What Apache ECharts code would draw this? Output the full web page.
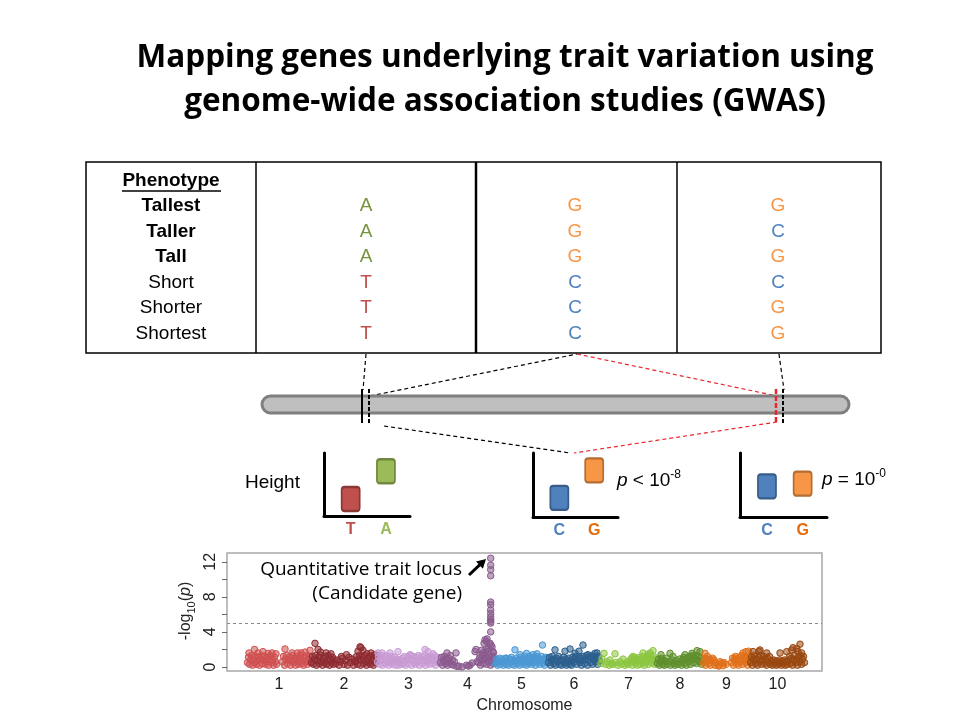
<!DOCTYPE html>
<html><head><meta charset="utf-8">
<script src="https://cdn.jsdelivr.net/npm/echarts@6/dist/echarts.min.js"></script>
<style>html,body{margin:0;padding:0;background:#fff}#main{width:960px;height:720px}</style>
</head><body><div id="main"></div>
<script>
// ---------------- DATA ----------------
const titleLines = ['Mapping genes underlying trait variation using', 'genome-wide association studies (GWAS)'];
const phenoHeader = 'Phenotype';
const phenotypes = ['Tallest', 'Taller', 'Tall', 'Short', 'Shorter', 'Shortest'];
const snp1 = ['A', 'A', 'A', 'T', 'T', 'T'];
const snp2 = ['G', 'G', 'G', 'C', 'C', 'C'];
const snp3 = ['G', 'C', 'G', 'C', 'G', 'G'];

const allelesA = ['T', 'A'];
const heightsA = [2.7, 7.1];
const allelesB = ['C', 'G'];
const heightsB = [3.0, 7.3];
const allelesC = ['C', 'G'];
const heightsC = [4.8, 5.2];
const pTextB = ['<', '-8'];
const pTextC = ['=', '-0'];

const chrNames = ['1', '2', '3', '4', '5', '6', '7', '8', '9', '10'];
const chrLen = [640, 660, 630, 550, 530, 520, 570, 460, 470, 550];
const threshold = 5;
const yTickValues = [0, 2, 4, 6, 8, 10, 12];
const yLabelValues = [0, 4, 8, 12];

const chr1 = [[5,0.5],[15,1.1],[25,0.3],[35,0.8],[45,1.3],[55,0.2],[65,0.9],[75,0.5],[85,1.2],[95,0.3],[105,0.7],[115,1.1],[125,0.2],[135,0.9],[145,1.3],[155,0.4],[165,0.8],[175,1.2],[185,0.3],[195,0.6],[205,1.1],[215,0.2],[225,0.9],[235,1.3],[245,0.5],[255,0.8],[265,0.2],[275,1.1],[285,0.6],[295,0.3],
[20,1.6],[75,2.0],[110,1.6],[160,1.75],[210,1.55],[250,1.6],[290,1.5],
[355,0.6],[365,1.2],[375,0.2],[385,0.9],[395,1.3],[405,0.4],[415,0.8],[425,1.1],[435,0.2],[445,0.7],[455,1.3],[465,0.5],[475,0.9],[485,0.2],[495,1.2],[505,0.6],[515,0.3],[525,1.0],[535,1.3],[545,0.4],[555,0.8],[565,0.2],[575,1.1],[585,0.6],[595,1.3],[605,0.3],[615,0.9],[625,1.2],[635,0.5],
[380,2.05],[450,1.6],[505,1.6],[540,1.6],[580,1.7],[630,1.9]];
const chr2 = [[5,0.5],[15,1.2],[25,0.3],[35,0.9],[45,1.3],[55,0.2],[65,0.7],[75,1.1],[85,0.4],[95,1.3],[105,0.6],[115,0.2],[125,1.0],[135,0.5],[145,1.2],[155,0.3],[165,0.8],[175,1.3],[185,0.2],[195,0.9],[205,0.5],[215,1.1],[225,0.3],[235,0.8],
[40,2.7],[70,2.0],[95,1.7],[150,1.6],[200,1.5],
[250,0.4],[265,0.8],[280,0.2],[295,0.6],[305,1.2],[315,1.0],[330,0.3],[345,0.7],[355,1.4],[365,0.2],[380,1.1],[395,0.5],[410,0.9],[425,0.2],[435,0.6],
[445,0.6],[455,1.2],[465,0.3],[475,0.9],[485,1.3],[495,0.2],[505,0.8],[515,1.1],[525,0.4],[535,1.3],[545,0.6],[555,0.2],[565,1.0],[575,0.5],[585,1.2],[595,0.3],[605,0.8],[615,1.3],[625,0.2],[635,0.9],[645,0.5],[655,1.1],
[470,1.8],[490,2.3],[500,2.2],[520,1.9],[560,1.5],[600,1.6],[640,1.4]];
const chr3 = [[5,0.6],[15,1.2],[25,0.3],[35,0.9],[45,1.3],[55,0.2],[65,0.7],[75,1.1],[85,0.4],[95,1.3],[105,0.6],[115,0.2],[125,1.0],[135,0.5],[145,1.2],[155,0.3],[165,0.8],[175,1.1],[185,0.2],[195,0.6],[205,0.9],[215,0.2],[225,0.5],[235,0.8],[245,0.3],[255,1.0],[265,0.4],[275,1.2],[285,0.2],[295,0.7],[305,1.1],[315,0.4],[325,0.9],[335,1.3],[345,0.2],[355,0.8],[365,1.2],[375,0.5],[385,0.3],[395,1.1],[405,0.6],[415,1.3],[425,0.2],[435,0.9],[445,1.2],[455,0.4],[465,0.7],[475,1.3],[485,0.2],[495,1.0],[505,0.6],[515,1.2],[525,0.3],[535,0.8],[545,1.1],[555,0.4],[565,0.9],[575,1.3],[585,0.2],[595,0.7],[605,1.1],[615,0.5],[625,0.9],
[10,1.6],[50,1.6],[130,1.6],[210,1.75],[330,1.4],[480,2.0],[510,1.75],[560,1.5]];
const chr4 = [[5,0.5],[15,1.1],[25,0.2],[35,0.8],[45,1.2],[55,0.4],[65,0.9],[75,0.2],[85,1.0],[95,0.5],[105,1.3],[115,0.3],[125,0.8],[135,0.2],[145,0.6],
[70,1.6],[160,1.6],
[170,0.05],[190,0.1],[220,0.0],[265,0.2],[285,0.1],[300,0.2],[320,0.45],[350,1.75],[370,0.6],[360,2.0],
[385,0.5],[395,1.0],[405,0.2],[415,0.8],[425,1.3],[435,0.4],[445,0.9],[455,1.2],[465,0.3],[475,1.0],[485,0.6],[495,1.3],[505,0.2],[515,0.8],[525,1.2],[535,0.4],[545,0.9],
[400,1.4],[415,1.9],[430,1.6],[440,2.7],[450,3.1],[465,2.9],[470,3.2],[480,1.75],[485,2.1],[500,2.7],[510,2.5],[520,2.3],[530,1.75],[460,2.0],[535,1.6],
[507,12.4],[507,11.6],[507,11.1],[507,10.4],[507,7.4],[507,7.1],[507,6.5],[507,6.1],[507,5.7],[507,5.4],[507,5.2],[507,5.0],[507,4.0]];
const chr5 = [[5,0.4],[15,0.9],[25,0.2],[35,0.7],[45,1.0],[55,0.3],[65,0.6],[75,0.9],[85,0.2],[95,0.5],[105,1.0],[115,0.3],[125,0.7],[135,0.2],[145,0.9],[155,0.5],[165,1.1],[175,0.3],[185,0.8],[195,0.2],[205,0.6],[215,1.0],[225,0.4],[235,0.8],[245,0.2],[255,1.1],[265,0.5],[275,0.9],[285,0.3],[295,1.2],[305,0.6],[315,0.2],[325,1.0],[335,0.4],[345,1.2],[355,0.7],[365,0.3],[375,1.1],[385,0.5],[395,0.9],[405,0.2],[415,1.2],[425,0.6],[435,1.0],[445,0.3],[455,0.8],[465,1.2],[475,0.4],[485,0.9],[495,0.2],[505,1.1],[515,0.6],[525,1.0],
[115,1.0],[200,1.95],[250,1.4],[315,1.55],[380,1.4],[475,2.5],[420,1.5]];
const chr6 = [[5,0.5],[15,1.1],[25,0.2],[35,0.8],[45,1.2],[55,0.4],[65,0.9],[75,0.2],[85,1.0],[95,0.6],[105,1.2],[115,0.3],[125,0.8],[135,0.2],[145,0.7],[155,1.1],[165,0.4],[175,0.9],[185,0.2],[195,0.6],[205,1.0],[215,0.3],[225,0.7],[235,0.2],[245,1.1],[255,0.5],[265,0.9],[275,1.2],[285,0.3],[295,0.8],[305,1.2],[315,0.5],[325,1.0],[335,0.2],[345,0.7],[355,1.2],[365,0.4],[375,0.9],[385,1.3],[395,0.2],[405,0.8],[415,1.1],[425,0.5],[435,1.3],[445,0.3],[455,0.9],[465,1.2],[475,0.6],[485,1.0],[495,0.3],[505,1.2],[515,0.7],
[70,1.95],[170,1.8],[220,2.05],[270,1.56],[310,1.8],[350,2.5],[400,1.4],[470,1.56],[490,1.6]];
const chr7 = [[10,0.4],[20,0.9],[40,1.56],[55,0.3],[70,0.6],[90,0.2],[100,0.8],[115,0.4],[130,0.3],[150,1.5],[160,0.5],[180,0.2],[200,0.6],[215,0.3],[230,0.9],[250,0.2],[265,0.5],[280,0.3],[290,0.7],
[305,0.5],[315,1.0],[325,0.2],[335,0.8],[345,1.1],[355,0.4],[365,0.9],[375,0.2],[385,0.7],[395,1.1],[405,0.3],[415,0.8],[425,1.2],[435,0.5],[445,0.2],[455,1.0],[465,0.6],[475,1.2],[485,0.3],[495,0.9],[505,1.3],[515,0.5],[525,0.8],[535,1.2],[545,0.3],[555,0.9],[565,0.5],
[330,1.2],[430,1.6],[480,1.4],[500,1.6],[530,1.86]];
const chr8 = [[5,0.4],[15,0.9],[25,0.2],[35,0.7],[45,1.0],[55,0.3],[65,0.8],[75,0.2],[85,0.6],[95,1.0],[105,0.3],[120,0.6],[135,0.2],[150,0.8],[165,0.4],[180,0.2],[195,0.7],[210,0.3],[225,0.9],[235,0.5],[245,0.2],[255,0.8],[265,1.1],[275,0.4],[285,0.9],[295,0.2],[305,1.0],[315,0.6],[325,1.2],[335,0.3],[345,0.9],[355,1.3],[365,0.5],[375,1.0],[385,1.3],[395,0.4],[405,0.8],[415,1.2],[425,0.6],[435,1.0],[445,0.3],[455,0.8],
[40,1.4],[130,1.56],[160,1.2],[280,1.4],[350,1.56],[400,1.86],[430,1.75]];
const chr9 = [[5,0.5],[15,1.0],[25,0.2],[35,0.8],[45,1.2],[55,0.4],[65,0.9],[75,0.2],[85,0.7],[95,1.0],
[20,1.56],
[110,0.8],[130,0.45],[150,0.2],[170,0.6],[190,0.45],[210,0.5],[230,0.3],[120,0.2],[160,0.1],[200,0.15],
[285,0.5],[295,1.0],[305,0.2],[315,0.8],[325,1.2],[335,0.4],[345,0.9],[355,0.2],[365,1.1],[375,0.6],[385,1.3],[395,0.3],[405,0.8],[415,1.2],[425,0.5],[435,1.0],[445,0.2],[455,0.9],[465,1.2],
[320,1.0],[400,1.6],[430,1.75],[455,1.8]];
const chr10 = [[5,0.5],[15,1.1],[25,0.2],[35,0.8],[45,1.3],[55,0.4],[65,0.9],[75,0.2],[85,1.1],[95,0.6],[105,1.3],[115,0.3],[125,0.8],[135,1.2],[145,0.4],[155,0.9],[165,0.2],[175,1.0],[185,0.5],[195,1.2],[205,0.3],
[215,0.6],[225,0.2],[235,0.8],[245,0.4],[255,0.7],[265,0.2],[275,0.6],[285,0.3],[295,0.8],[305,0.5],[315,0.2],[325,0.7],[335,0.4],[345,0.8],[355,0.2],[365,0.6],[375,0.3],
[385,0.8],[395,1.2],[405,0.4],[415,1.0],[425,0.2],[435,0.8],[445,1.3],[455,0.5],[465,0.9],[475,0.2],[485,1.1],[495,0.6],[505,1.3],[515,0.3],[525,0.9],[535,1.2],[545,0.5],
[30,1.75],[90,1.8],[100,1.94],[167,1.6],[300,1.6],[367,1.75],[417,1.94],[430,2.2],[467,2.1],[480,1.75],[500,2.6],[517,1.6]];
const chrData = [chr1, chr2, chr3, chr4, chr5, chr6, chr7, chr8, chr9, chr10];

// ---------------- STYLE / LAYOUT ----------------
const chrColors = ['#d05050', '#8e2a30', '#c99ad4', '#8a5a8e', '#4a98d4', '#2c5f8e', '#8cc63f', '#5e8f2c', '#e0701a', '#99470f'];
const letterColor = { A: '#77933c', T: '#c0504d', G: '#f79646', C: '#4f81bd' };
const boxFill = { A: '#9bbb59', T: '#c0504d', G: '#f79646', C: '#4f81bd' };
const boxBorder = { A: '#71893f', T: '#8c3836', G: '#b66d31', C: '#385d8a' };
const tickLetterColor = { A: '#9bbb59', T: '#c0504d', G: '#e46c0a', C: '#4f81bd' };
const slots = [0.31, 0.72];
const SANS = '"Liberation Sans", Arial, sans-serif';
const HUM = '"Open Sans", "Liberation Sans", sans-serif';
const BOX_PATH = 'path://M3,0H15Q18,0 18,3V21Q18,24 15,24H3Q0,24 0,21V3Q0,0 3,0Z';

function rgba(hex, a) {
  const n = parseInt(hex.slice(1), 16);
  return 'rgba(' + (n >> 16 & 255) + ',' + (n >> 8 & 255) + ',' + (n & 255) + ',' + a + ')';
}

const offsets = [];
let acc = 0;
chrLen.forEach(l => { offsets.push(acc); acc += l; });
const centers = chrLen.map((l, i) => offsets[i] + l / 2);

// mini charts
const miniGrids = [
  { left: 324, top: 453, width: 86, height: 63 },
  { left: 533, top: 453, width: 85, height: 64 },
  { left: 740, top: 453, width: 87, height: 64 }
];
const miniAlleles = [allelesA, allelesB, allelesC];
const miniHeights = [heightsA, heightsB, heightsC];

const grids = miniGrids.map(g => Object.assign({ containLabel: false }, g));
grids.push({ left: 227, top: 553, width: 595, height: 118, show: true, borderColor: '#a8a8a8', borderWidth: 1.5, backgroundColor: 'transparent' });

const richLetters = {};
Object.keys(tickLetterColor).forEach(k => {
  richLetters[k] = { color: tickLetterColor[k], fontWeight: 'bold', fontSize: 16, fontFamily: SANS };
});

const xAxes = miniAlleles.map((al, gi) => ({
  gridIndex: gi, type: 'value', min: 0, max: 1,
  axisLine: { show: true, onZero: false, lineStyle: { color: '#000', width: 3 } },
  axisTick: { show: false }, splitLine: { show: false },
  axisLabel: {
    show: true, customValues: slots, margin: 6,
    formatter: v => { const i = slots.findIndex(s => Math.abs(s - v) < 1e-6); const k = al[i]; return k ? '{' + k + '|' + k + '}' : ''; },
    rich: richLetters
  }
}));
xAxes.push({
  gridIndex: 3, type: 'value', min: -200, max: acc + 170,
  axisLine: { show: false, onZero: false }, axisTick: { show: false }, splitLine: { show: false },
  axisLabel: {
    customValues: centers, margin: 6, fontSize: 16, color: '#222', fontFamily: SANS,
    formatter: v => { const i = centers.findIndex(c => Math.abs(c - v) < 1e-6); return i >= 0 ? chrNames[i] : ''; }
  },
  name: 'Chromosome', nameLocation: 'middle', nameGap: 27,
  nameTextStyle: { fontSize: 16, color: '#222', fontFamily: SANS }
});

const yAxes = miniAlleles.map((al, gi) => ({
  gridIndex: gi, type: 'value', min: 0, max: 10,
  axisLine: { show: true, onZero: false, lineStyle: { color: '#000', width: 3 } },
  axisTick: { show: false }, splitLine: { show: false }, axisLabel: { show: false }
}));
yAxes.push({
  gridIndex: 3, type: 'value', min: -0.46, max: 13.0,
  axisLine: { show: false, onZero: false }, splitLine: { show: false },
  axisTick: { show: true, customValues: yTickValues, length: 5, lineStyle: { color: '#666', width: 1 } },
  axisLabel: { customValues: yLabelValues, rotate: 90, fontSize: 16, color: '#222', margin: 8, fontFamily: SANS }
});

const series = [];
miniAlleles.forEach((al, gi) => {
  series.push({
    type: 'scatter', xAxisIndex: gi, yAxisIndex: gi, symbol: BOX_PATH, symbolSize: [18, 24], silent: true,
    symbolKeepAspect: false,
    data: al.map((k, i) => ({ value: [slots[i], miniHeights[gi][i]], itemStyle: { color: boxFill[k], borderColor: boxBorder[k], borderWidth: 2, opacity: 1 } }))
  });
});
chrData.forEach((d, i) => {
  const s = {
    type: 'scatter', xAxisIndex: 3, yAxisIndex: 3, symbol: 'circle', symbolSize: 6.5, silent: true,
    data: d.map(p => [offsets[i] + p[0], p[1]]),
    itemStyle: { color: rgba(chrColors[i], 0.55), borderColor: chrColors[i], borderWidth: 1, opacity: 1 }
  };
  if (i === 0) {
    s.markLine = { silent: true, symbol: ['none', 'none'], label: { show: false },
      lineStyle: { color: '#8a8a8a', type: [3, 3], width: 1.2 }, data: [{ yAxis: threshold }] };
  }
  series.push(s);
});

// ---------------- GRAPHIC (infographic parts) ----------------
const G = [];
function txt(x, y, text, font, fill, align, extra) {
  G.push(Object.assign({ type: 'text', x: x, y: y, silent: true,
    style: { text: text, font: font, fill: fill || '#000', textAlign: align || 'center', textVerticalAlign: 'middle' } }, extra || {}));
}
function line(x1, y1, x2, y2, stroke, w, dash) {
  G.push({ type: 'line', silent: true, shape: { x1: x1, y1: y1, x2: x2, y2: y2 },
    style: { stroke: stroke, lineWidth: w, lineDash: dash || null } });
}
// title
txt(505, 58, titleLines[0], 'bold 31.5px ' + HUM, '#000');
txt(505, 102, titleLines[1], 'bold 31.5px ' + HUM, '#000');
// table
G.push({ type: 'rect', silent: true, shape: { x: 86, y: 162, width: 795, height: 191 }, style: { fill: 'none', stroke: '#000', lineWidth: 1.5 } });
line(256, 162, 256, 353, '#000', 1.5);
line(476, 162, 476, 353, '#000', 2.5);
line(677, 162, 677, 353, '#000', 1.5);
txt(171, 181, phenoHeader, 'bold 19px ' + SANS, '#000');
line(122, 191, 221, 191, '#000', 1.3);
phenotypes.forEach((p, i) => {
  const y = 206 + 25.5 * i;
  txt(171, y, p, (i < 3 ? 'bold ' : '') + '19px ' + SANS, '#000');
  txt(366, y, snp1[i], '19px ' + SANS, letterColor[snp1[i]]);
  txt(575, y, snp2[i], '19px ' + SANS, letterColor[snp2[i]]);
  txt(778, y, snp3[i], '19px ' + SANS, letterColor[snp3[i]]);
});
// connectors (upper)
line(366, 354, 363, 390, '#000', 1.2, [4, 3]);
line(370, 396, 577, 354, '#000', 1.2, [4, 3]);
line(577, 354, 777, 396, '#e8262d', 1.2, [4, 3]);
line(779, 354, 784, 390, '#000', 1.2, [4, 3]);
// chromosome bar
G.push({ type: 'rect', silent: true, shape: { x: 262, y: 396, width: 587, height: 17, r: 8.5 }, style: { fill: '#bfbfbf', stroke: '#7f7f7f', lineWidth: 3 } });
line(362, 389, 362, 423, '#000', 2);
line(369, 389, 369, 423, '#000', 2, [4, 2]);
line(776, 389, 776, 423, '#e8262d', 2.5, [5, 2]);
line(783, 389, 783, 423, '#000', 2, [4, 2]);
// connectors (lower)
line(384, 426, 570, 453, '#000', 1.2, [4, 3]);
line(777, 422, 574, 453, '#e8262d', 1.2, [4, 3]);
// mini chart texts
txt(245, 483, 'Height', '19px ' + SANS, '#000', 'left');
const pRich = {
  i: { fontStyle: 'italic', fontSize: 19, fontFamily: SANS, lineHeight: 24 },
  n: { fontSize: 19, fontFamily: SANS, lineHeight: 24 },
  sup: { fontSize: 12, fontFamily: SANS, lineHeight: 24, verticalAlign: 'top', padding: [0, 0, 9, 0] }
};
G.push({ type: 'text', x: 617, y: 481, silent: true, style: { text: '{i|p}{n| ' + pTextB[0] + ' 10}{sup|' + pTextB[1] + '}', rich: pRich, fill: '#000', textAlign: 'left', textVerticalAlign: 'middle' } });
G.push({ type: 'text', x: 822, y: 480, silent: true, style: { text: '{i|p}{n| ' + pTextC[0] + ' 10}{sup|' + pTextC[1] + '}', rich: pRich, fill: '#000', textAlign: 'left', textVerticalAlign: 'middle' } });
// manhattan annotation
txt(462, 570, 'Quantitative trait locus', '19px ' + HUM, '#000', 'right');
txt(462, 594, '(Candidate gene)', '19px ' + HUM, '#000', 'right');
line(469, 575, 480.5, 564.2, '#000', 3);
G.push({ type: 'polygon', silent: true, shape: { points: [[486, 559], [482.9, 568.8], [476.0, 561.5]] }, style: { fill: '#000' } });
// y axis title
G.push({ type: 'text', x: 186, y: 611, rotation: Math.PI / 2, silent: true,
  style: { text: '{t|-log}{s|10}{t|(}{i|p}{t|)}', textAlign: 'center', textVerticalAlign: 'middle', fill: '#222',
    rich: { t: { fontSize: 16, fontFamily: SANS, lineHeight: 22 }, i: { fontSize: 16, fontStyle: 'italic', fontFamily: SANS, lineHeight: 22 },
      s: { fontSize: 11, fontFamily: SANS, lineHeight: 22, verticalAlign: 'bottom', padding: [5, 0, 0, 0] } } } });

const chart = echarts.init(document.getElementById('main'), null, { renderer: 'canvas' });
chart.setOption({
  animation: false,
  backgroundColor: '#fff',
  grid: grids,
  xAxis: xAxes,
  yAxis: yAxes,
  series: series,
  graphic: { elements: G }
});
</script></body></html>
